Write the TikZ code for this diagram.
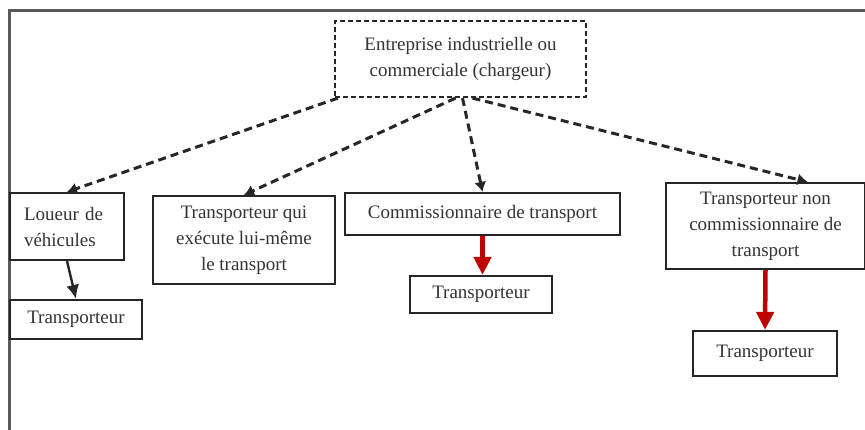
\documentclass[tikz,border=0pt]{standalone}
\usepackage{fontspec}
\setmainfont{Liberation Serif}
\usepackage{tikz}
\usetikzlibrary{arrows.meta}

\begin{document}
\begin{tikzpicture}[x=1pt,y=-1pt,
		box/.style={draw=black!85, line width=2.2pt, text=black!80, align=center, inner sep=0pt,
			font=\fontsize{19}{26}\selectfont},
		dotbox/.style={box, dash pattern=on 5pt off 3pt},
		flow/.style={draw=black!85, line width=3pt, dash pattern=on 8pt off 5pt, -{Latex[length=10pt,width=12pt]}},
		plain/.style={draw=black!85, line width=2.4pt, -{Latex[length=14pt,width=13pt]}},
		sub/.style={draw=red!75!black, line width=4.5pt, -{Triangle[length=18pt,width=17pt]}}]
			\useasboundingbox (0,0) rectangle (865,429);
			\draw[black!65, line width=3pt] (866,10) -- (9,10) -- (9,430);
			\node[dotbox, minimum width=251pt, minimum height=76pt] (ent) at (460.5,59)
				{Entreprise industrielle ou\\commerciale (chargeur)};
			\node[box, minimum width=114pt, minimum height=67pt, text width=86pt, align=left] (loueur) at (67,226.5)
				{Loueur de\\véhicules};
			\node[box, minimum width=132pt, minimum height=39pt] (transpA) at (76,319.5) {Transporteur};
			\node[box, minimum width=182pt, minimum height=88pt] (tqui) at (244,240)
				{Transporteur qui\\exécute lui-même\\le transport};
			\node[box, minimum width=275pt, minimum height=42pt] (comm) at (482.5,214) {Commissionnaire de transport};
			\node[box, minimum width=142pt, minimum height=37pt] (transpB) at (481,294.5) {Transporteur};
			\node[box, minimum width=199pt, minimum height=86pt] (tnon) at (765.5,226)
				{Transporteur non\\commissionnaire de\\transport};
			\node[box, minimum width=144pt, minimum height=45pt] (transpC) at (765,353.5) {Transporteur};
			\path
			([xshift=4pt]ent.south west) edge[flow] (loueur.north)
			([xshift=-5pt]ent.south) edge[flow] (tqui.north)
			([xshift=2pt]ent.south) edge[flow] (comm.north)
			([xshift=12pt]ent.south) edge[flow] ([xshift=42pt]tnon.north)
			(loueur.south) edge[plain] (transpA.north)
			(comm.south) edge[sub] (comm.south |- transpB.north)
			(tnon.south) edge[sub] (transpC.north);
		\end{tikzpicture}
\end{document}
